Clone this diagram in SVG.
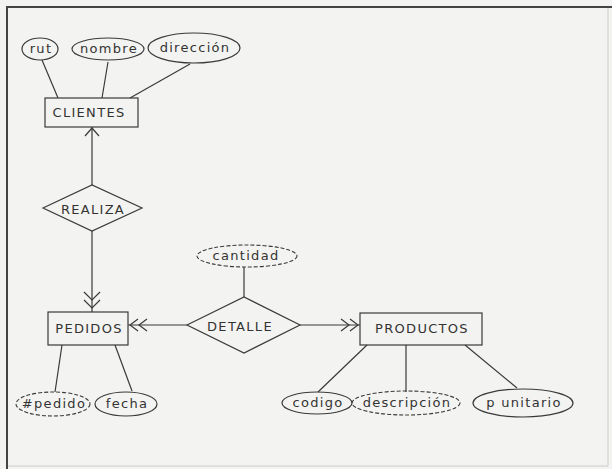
<svg xmlns="http://www.w3.org/2000/svg" width="612" height="469" viewBox="0 0 612 469">
<style>
.bg{fill:#f3f3f1}
.s{fill:none;stroke:#3a3a3a;stroke-width:1.2}
.d{fill:none;stroke:#3a3a3a;stroke-width:1.1;stroke-dasharray:4 2}
.t{font-family:"DejaVu Sans","Liberation Sans",sans-serif;font-size:13px;fill:#333;text-anchor:middle;dominant-baseline:central;letter-spacing:1.3px}
</style>
<rect class="bg" x="0" y="0" width="612" height="469"/>
<g id="frame">
<line x1="6" y1="7" x2="612" y2="7" stroke="#444" stroke-width="2"/>
<line x1="7" y1="6" x2="7" y2="469" stroke="#444" stroke-width="2"/>
<line x1="608" y1="8" x2="608" y2="466" stroke="#ccc" stroke-width="1"/>
<line x1="8" y1="466" x2="608" y2="466" stroke="#ccc" stroke-width="1"/>
</g>
<g id="connectors">
<line class="s" x1="42" y1="60" x2="58" y2="98"/>
<line class="s" x1="108" y1="62" x2="102" y2="98"/>
<line class="s" x1="190" y1="64" x2="130" y2="98"/>
<line class="s" x1="92" y1="127" x2="92" y2="185"/>
<polyline class="s" points="85,136 92,128 99,136"/>
<line class="s" x1="92" y1="231" x2="92" y2="312"/>
<polyline class="s" points="84,292 92,300 100,292"/>
<polyline class="s" points="84,300 92,308 100,300"/>
<line class="s" x1="128" y1="325" x2="187" y2="325"/>
<polyline class="s" points="138,319 130,325 138,331"/>
<polyline class="s" points="147,319 139,325 147,331"/>
<line class="s" x1="244" y1="267" x2="244" y2="297"/>
<line class="s" x1="300" y1="325" x2="360" y2="325"/>
<polyline class="s" points="341,319 349,325 341,331"/>
<polyline class="s" points="350,319 358,325 350,331"/>
<line class="s" x1="62" y1="345" x2="55" y2="392"/>
<line class="s" x1="115" y1="345" x2="132" y2="391"/>
<line class="s" x1="367" y1="345" x2="318" y2="392"/>
<line class="s" x1="406" y1="345" x2="406" y2="392"/>
<line class="s" x1="465" y1="345" x2="517" y2="388"/>
</g>
<g id="rut"><ellipse class="s" cx="40" cy="49" rx="18" ry="11"/><text class="t" x="41" y="48">rut</text></g>
<g id="nombre"><ellipse class="s" cx="108" cy="49" rx="36" ry="11"/><text class="t" x="109" y="48">nombre</text></g>
<g id="direccion"><ellipse class="s" cx="194" cy="48" rx="46" ry="15"/><text class="t" x="195" y="47">dirección</text></g>
<g id="clientes"><rect class="s" x="45" y="98" width="93" height="29"/><text class="t" x="89" y="112">CLIENTES</text></g>
<g id="realiza"><polygon class="s" points="43,208 92,185 142,208 92,231"/><text class="t" x="93" y="209">REALIZA</text></g>
<g id="pedidos"><rect class="s" x="48" y="312" width="80" height="33"/><text class="t" x="89" y="328">PEDIDOS</text></g>
<g id="cantidad"><ellipse class="d" cx="247" cy="256" rx="50" ry="11"/><text class="t" x="246" y="255">cantidad</text></g>
<g id="detalle"><polygon class="s" points="187,325 244,297 300,325 244,353"/><text class="t" x="240" y="326">DETALLE</text></g>
<g id="productos"><rect class="s" x="360" y="313" width="122" height="32"/><text class="t" x="422" y="328">PRODUCTOS</text></g>
<g id="pedido"><ellipse class="d" cx="53" cy="404" rx="37" ry="12"/><text class="t" x="54" y="403">#pedido</text></g>
<g id="fecha"><ellipse class="s" cx="126" cy="404" rx="31" ry="12"/><text class="t" x="127" y="403">fecha</text></g>
<g id="codigo"><ellipse class="s" cx="317" cy="403" rx="35" ry="11"/><text class="t" x="318" y="402">codigo</text></g>
<g id="descripcion"><ellipse class="d" cx="406" cy="403" rx="54" ry="12"/><text class="t" x="407" y="402">descripción</text></g>
<g id="punitario"><ellipse class="s" cx="523" cy="403" rx="50" ry="14"/><text class="t" x="524" y="402">p unitario</text></g>
</svg>
